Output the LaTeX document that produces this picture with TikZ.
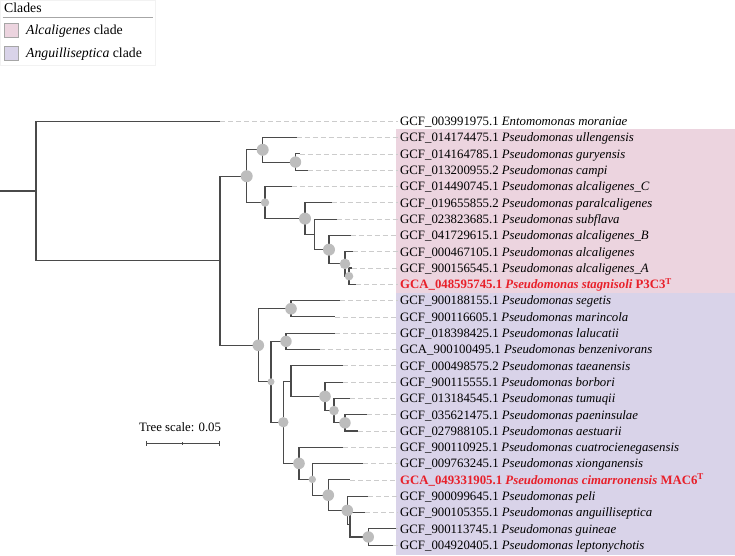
\documentclass[tikz,border=0pt]{standalone}
\usepackage{fontspec}
\setmainfont{Liberation Serif}
\usepackage{xcolor}
\definecolor{branchfg}{HTML}{4A4A4A}
\definecolor{guidefg}{HTML}{CCCCCC}
\definecolor{bootfill}{HTML}{BDBDBD}
\definecolor{alcfill}{HTML}{ECD4DF}
\definecolor{angfill}{HTML}{D9D3E9}
\definecolor{typered}{HTML}{E8202A}

\tikzset{
  branch/.style={draw=branchfg, line width=1.1pt},
  guide/.style={draw=guidefg, line width=0.7pt, dash pattern=on 5pt off 3pt},
  boot/.style={fill=bootfill, draw=none},
  leaflabel/.style={anchor=base west, inner ysep=0pt, inner xsep=2.5pt, font=\fontsize{12.8}{14}\selectfont},
  legkey/.style={draw=gray!70, line width=0.5pt, minimum size=14pt, inner sep=0pt},
  legtext/.style={anchor=base west, inner sep=0pt, font=\fontsize{13.75}{15}\selectfont},
}

\begin{document}
\begin{tikzpicture}[x=1pt, y=-1pt]
		\useasboundingbox (0,0) rectangle (735,555);

		% clade shading behind the labels
		\fill[alcfill] (396,129.4) rectangle (735,292.7);
		\fill[angfill] (396,292.7) rectangle (735,555);

		% legend
		\draw[gray!10, line width=0.6pt] (0.3,0.3) rectangle (155,65);
		\node[legtext] (legtitle) at (4,12.7) {Clades};
		\draw[gray!70, line width=0.6pt] (2.7,17.3) -- (153,17.3);
		\node[legkey, fill=alcfill] (keyalc) at (11.2,30.5) {};
		\node[legkey, fill=angfill] (keyang) at (11.2,53.4) {};
		\node[legtext] (legalc) at (26,34.3) {\textit{Alcaligenes} clade};
		\node[legtext] (legang) at (26,57) {\textit{Anguilliseptica} clade};

		% leaf tips, labels and dashed guides
		\foreach \i/\tx/\lab in {
				0/220/{GCF\_003991975.1 \textit{Entomomonas moraniae}},
				1/296.7/{GCF\_014174475.1 \textit{Pseudomonas ullengensis}},
				2/299.5/{GCF\_014164785.1 \textit{Pseudomonas guryensis}},
				3/307.7/{GCF\_013200955.2 \textit{Pseudomonas campi}},
				4/291.7/{GCF\_014490745.1 \textit{Pseudomonas alcaligenes\_C}},
				5/331.7/{GCF\_019655855.2 \textit{Pseudomonas paralcaligenes}},
				6/336.7/{GCF\_023823685.1 \textit{Pseudomonas subflava}},
				7/350.7/{GCF\_041729615.1 \textit{Pseudomonas alcaligenes\_B}},
				8/352.7/{GCF\_000467105.1 \textit{Pseudomonas alcaligenes}},
				9/352/{GCF\_900156545.1 \textit{Pseudomonas alcaligenes\_A}},
				10/356/{\color{typered}\bfseries GCA\_048595745.1 \textit{Pseudomonas stagnisoli} P3C3\textsuperscript{T}},
				11/340/{GCF\_900188155.1 \textit{Pseudomonas segetis}},
				12/335/{GCF\_900116605.1 \textit{Pseudomonas marincola}},
				13/335/{GCF\_018398425.1 \textit{Pseudomonas lalucatii}},
				14/320/{GCA\_900100495.1 \textit{Pseudomonas benzenivorans}},
				15/343.3/{GCF\_000498575.2 \textit{Pseudomonas taeanensis}},
				16/343/{GCF\_900115555.1 \textit{Pseudomonas borbori}},
				17/350/{GCF\_013184545.1 \textit{Pseudomonas tumuqii}},
				18/366.7/{GCF\_035621475.1 \textit{Pseudomonas paeninsulae}},
				19/358.3/{GCF\_027988105.1 \textit{Pseudomonas aestuarii}},
				20/343/{GCF\_900110925.1 \textit{Pseudomonas cuatrocienegasensis}},
				21/363/{GCF\_009763245.1 \textit{Pseudomonas xionganensis}},
				22/350/{\color{typered}\bfseries GCA\_049331905.1 \textit{Pseudomonas cimarronensis} MAC6\textsuperscript{T}},
				23/368/{GCF\_900099645.1 \textit{Pseudomonas peli}},
				24/365/{GCF\_900105355.1 \textit{Pseudomonas anguilliseptica}},
				25/396/{GCF\_900113745.1 \textit{Pseudomonas guineae}},
				26/393/{GCF\_004920405.1 \textit{Pseudomonas leptonychotis}}} {
				\coordinate (t\i) at (\tx,121.3+16.3*\i);
				\node[leaflabel] (l\i) at (397.5,125.6+16.3*\i) {\lab};
				\draw[guide] (t\i) -- (t\i -| l\i.west);
			}

		% inner nodes
		\foreach \n/\x/\y in {R/36/191.0, P0/220/260.75,
				A1/246.7/176.2, A2/262.7/149.8, A4/295.5/162.05, A3/265/202.55,
				A5/305/218.6, A6/314.3/234.4, A7/329/249.65, A8/345/263.9, A9/349/276.15,
				P1/258.3/345.3, B1/291/308.75, B2/271/381.8, B3/286/341.35,
				B4/283.3/422.2, B5/291/381.1, B6/325/396.35, B7/334/410.6, B8/345/422.85,
				C1/299/463.35, C2/312.3/479.4, C3/328.3/495.2, C4/347.3/510.45,
				C6/350/524.7, C5/368.3/536.95} {
				\coordinate (\n) at (\x,\y);
			}

		% branches
		\coordinate (stem) at (0,191.0);
		\draw[branch] (stem) -- (R);
		\foreach \p/\c in {R/t0, R/P0, P0/A1, P0/P1,
				A1/A2, A1/A3, A2/t1, A2/A4, A4/t2, A4/t3, A3/t4, A3/A5,
				A5/t5, A5/A6, A6/t6, A6/A7, A7/t7, A7/A8, A8/t8, A8/A9, A9/t9, A9/t10,
				P1/B1, P1/B2, B1/t11, B1/t12, B2/B3, B2/B4, B3/t13, B3/t14,
				B4/B5, B4/C1, B5/t15, B5/B6, B6/t16, B6/B7, B7/t17, B7/B8, B8/t18, B8/t19,
				C1/t20, C1/C2, C2/t21, C2/C3, C3/t22, C3/C4, C4/t23, C4/C6,
				C6/t24, C6/C5, C5/t25, C5/t26} {
				\draw[branch] (\p) |- (\c);
			}

		% support circles
		\foreach \n/\r in {A1/6, A2/6, A4/5.7, A3/4.2, A5/6, A7/6, A8/5.3, A9/4.3,
				P1/5.8, B1/5.8, B3/5.7, B2/3.5, B4/5.2, B6/5.8, B7/4.8, B8/5.7,
				C1/5.8, C2/3.7, C3/5.8, C4/5.8, C5/5.7} {
				\fill[boot] (\n) circle (\r);
			}

		% scale bar
		\coordinate (sbl) at (146,443.5);
		\coordinate (sbr) at (219.3,443.5);
		\coordinate (sbm) at (182.7,443.5);
		\draw[branch, line width=0.9pt] (sbl) -- (sbr);
		\draw[branch, line width=0.9pt] ([yshift=2.5pt]sbl) -- ([yshift=-2.5pt]sbl);
		\draw[branch, line width=0.9pt] ([yshift=2.5pt]sbr) -- ([yshift=-2.5pt]sbr);
		\draw[branch, line width=0.6pt] ([yshift=1.5pt]sbm) -- ([yshift=-1.5pt]sbm);
		\node[leaflabel, anchor=base, inner xsep=0pt] (scalelab) at (180,431.5) {Tree scale: 0.05};
	\end{tikzpicture}
\end{document}
